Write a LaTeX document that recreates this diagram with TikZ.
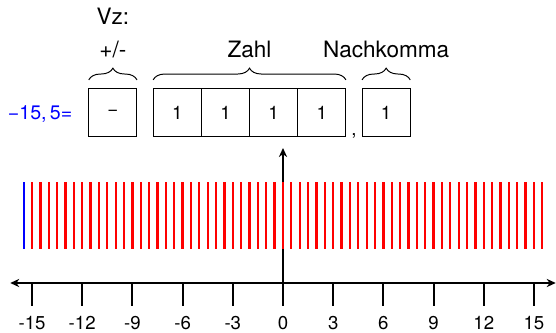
\documentclass[tikz,border=0pt]{standalone}
\usepackage{fontspec}
\setmainfont{TeX Gyre Heros}
\usetikzlibrary{positioning,calc,arrows.meta,decorations.pathreplacing}
\begin{document}
\begin{tikzpicture}[x=0.3cm,y=1cm,
		bit/.style={draw,line width=0.5pt,minimum size=0.864cm,inner sep=0pt,outer sep=0pt,font=\fontsize{9.5}{11}\selectfont},
		klammer/.style={decorate,decoration={brace,amplitude=0.21cm,raise=0.16cm},line width=0.5pt},
		titel/.style={font=\fontsize{11.5}{14}\selectfont,anchor=base,inner sep=0pt},
		zahlen/.style={font=\fontsize{9.5}{11}\selectfont,anchor=base,inner sep=0pt},
		strich/.style={red,line width=1.15pt},
		pfeil/.style={line width=1pt,-{Stealth[length=4.6pt,width=4.2pt]}}]
	\useasboundingbox (-5.074cm,-0.879cm) rectangle (4.895cm,5.074cm);
	\node[bit] (vz) at (-3.05cm,3.05cm) {−};
	\node[bit,right=0.29cm of vz] (z1) {1};
	\node[bit,right=0pt of z1] (z2) {1};
	\node[bit,right=0pt of z2] (z3) {1};
	\node[bit,right=0pt of z3] (z4) {1};
	\node[bit,right=0.29cm of z4] (nk) {1};
	\node[zahlen] (komma) at ([yshift=0.03cm]$(z4.south east)!0.5!(nk.south west)$) {,};
	\node[blue,font=\fontsize{10}{12}\selectfont,inner sep=0pt,anchor=base east] (wert) at ([xshift=-0.29cm,yshift=-0.12cm]vz.west) {−15,\,5=};
	\draw[klammer] (vz.north west) -- (vz.north east) node[titel,midway,yshift=0.56cm] (pm) {+/-};
	\draw[klammer] (z1.north west) -- (z4.north east) node[titel,midway,yshift=0.56cm] (zahl) {Zahl};
	\draw[klammer] (nk.north west) -- (nk.north east) node[titel,midway,yshift=0.56cm] (nach) {Nachkomma};
	\node[titel] (vzkopf) at ([yshift=0.59cm]pm.base) {Vz:};
	\coordinate (null) at (0,0);
	\coordinate (oben) at (0,2.42);
	\draw[pfeil] (null) -- (oben);
	\draw[strich,blue] (-15.5,0.61) -- (-15.5,1.81);
	\foreach \k in {-30,...,31} {
			\draw[strich] ({\k/2},0.61) -- ({\k/2},1.81);
		}
	\coordinate (links) at (-16.3,0);
	\coordinate (rechts) at (16.3,0);
	\draw[line width=1pt,{Stealth[length=4.6pt,width=4.2pt]}-{Stealth[length=4.6pt,width=4.2pt]}] (links) -- (rechts);
	\foreach \i in {-15,-12,...,15} {
			\coordinate (s\i) at (\i,0);
			\node[zahlen] (t\i) at (\i,-0.84) {\i};
			\draw[line width=1pt] (s\i) -- ([yshift=-0.42cm]s\i);
		}
\end{tikzpicture}
\end{document}
